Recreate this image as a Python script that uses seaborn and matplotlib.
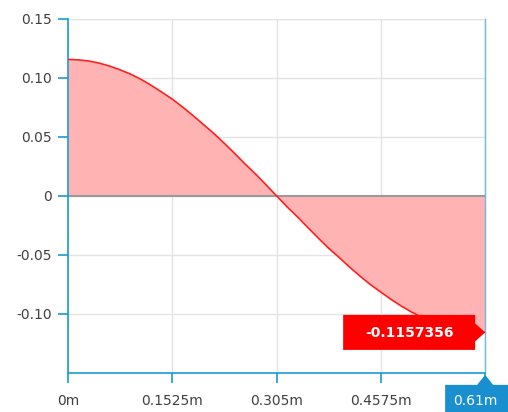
import numpy as np
import pandas as pd
import matplotlib
matplotlib.use('Agg')
import matplotlib.pyplot as plt
import matplotlib.transforms as mtransforms
import seaborn as sns
from matplotlib.patches import Polygon

# dados
pos = [0.0, 0.015, 0.031, 0.046, 0.061, 0.076, 0.092, 0.107, 0.122, 0.137, 0.153,
       0.168, 0.183, 0.198, 0.214, 0.229, 0.244, 0.259, 0.275, 0.290, 0.305,
       0.320, 0.336, 0.351, 0.366, 0.381, 0.397, 0.412, 0.427, 0.442, 0.458,
       0.473, 0.488, 0.503, 0.519, 0.534, 0.549, 0.564, 0.580, 0.595, 0.61]
val = [0.1157, 0.1153, 0.1143, 0.1125, 0.1100, 0.1069, 0.1031, 0.0987, 0.0936, 0.0880, 0.0818,
       0.0751, 0.0680, 0.0605, 0.0525, 0.0443, 0.0358, 0.0270, 0.0181, 0.0091, 0.0,
       -0.0091, -0.0181, -0.0270, -0.0358, -0.0443, -0.0525, -0.0605, -0.0680, -0.0751, -0.0818,
       -0.0880, -0.0936, -0.0987, -0.1031, -0.1069, -0.1100, -0.1125, -0.1143, -0.1153, -0.1157]
xticks = [0.0, 0.1525, 0.305, 0.4575, 0.61]
xlabels = ['0m', '0.1525m', '0.305m', '0.4575m', '']
yticks = [-0.10, -0.05, 0.0, 0.05, 0.10, 0.15]
ylabels = ['-0.10', '-0.05', '0', '0.05', '0.10', '0.15']
marca_valor = '-0.1157356'
marca_x = '0.61m'

df = pd.DataFrame({'pos': pos, 'val': val})

azul = '#1b9ad6'
sns.set_style('white')
fig = plt.figure(figsize=(5.08, 4.12), dpi=100)
ax = fig.add_axes([0.134, 0.095, 0.821, 0.859])

ax.fill_between(df.pos, df.val, 0, color='#ffb3b3', lw=0, zorder=2)
sns.lineplot(x='pos', y='val', data=df, color='#ff2020', lw=1.2, ax=ax, zorder=3)
ax.axhline(0, color='#9a9a9a', lw=1.5, zorder=2.5)

ax.set_xlim(0, 0.61)
ax.set_ylim(-0.15, 0.15)
ax.set_xticks(xticks)
ax.set_xticklabels(xlabels)
ax.set_yticks(yticks)
ax.set_yticklabels(ylabels)
ax.set_xlabel('')
ax.set_ylabel('')
ax.grid(True, color='#e3e3e3', lw=1, zorder=0)
ax.set_axisbelow(True)
ax.axhline(0.15, color='#e3e3e3', lw=1, zorder=0)

ax.spines['top'].set_visible(False)
ax.spines['left'].set_color(azul)
ax.spines['bottom'].set_color(azul)
ax.spines['right'].set_color('#6db8e4')
ax.spines['right'].set_linewidth(1.0)
ax.spines['left'].set_linewidth(1.2)
ax.spines['bottom'].set_linewidth(1.2)
ax.tick_params(axis='both', bottom=True, left=True, colors=azul, length=7.5, width=1.2,
               labelcolor='#404040', labelsize=10)
ax.tick_params(axis='x', pad=8)
ax.tick_params(axis='y', pad=4)

# caixa vermelha com o valor (em polegadas, relativa ao ultimo ponto)
t_red = fig.dpi_scale_trans + mtransforms.ScaledTranslation(pos[-1], val[-1], ax.transData)
caixa = Polygon([(-1.42, 0.175), (-0.10, 0.175), (-0.10, 0.09), (0.0, 0.0), (-0.10, -0.09),
                 (-0.10, -0.175), (-1.42, -0.175)], closed=True, fc='#ff0000', ec='none',
                transform=t_red, zorder=10, clip_on=False)
ax.add_patch(caixa)
ax.text(-0.76, -0.005, marca_valor, transform=t_red, ha='center', va='center', color='white',
        fontsize=10, fontweight='bold', zorder=11)

# caixa azul no eixo x
t_blue = fig.dpi_scale_trans + mtransforms.ScaledTranslation(pos[-1], -0.15, ax.transData)
caixa2 = Polygon([(-0.40, -0.12), (-0.08, -0.12), (0.0, -0.02), (0.08, -0.12), (0.30, -0.12),
                  (0.30, -0.42), (-0.40, -0.42)], closed=True, fc='#1a8fcf', ec='none',
                 transform=t_blue, zorder=10, clip_on=False)
ax.add_patch(caixa2)
ax.text(-0.10, -0.28, marca_x, transform=t_blue, ha='center', va='center', color='white',
        fontsize=10, zorder=11, clip_on=False)

plt.savefig('out.png', dpi=100)
